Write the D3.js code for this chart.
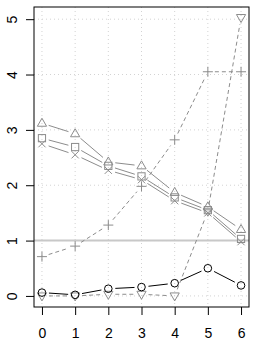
<!DOCTYPE html>
<html>
<head>
<meta charset="utf-8">
<script src="https://cdn.jsdelivr.net/npm/d3@7"></script>
<style>
  body { margin: 0; background: #fff; }
  text { font-family: "Liberation Sans", Arial, sans-serif; }
</style>
</head>
<body>
<svg id="chart" width="258" height="343"></svg>
<script>
// x positions
const xs = [0, 1, 2, 3, 4, 5, 6];
const xTicks = [0, 1, 2, 3, 4, 5, 6];
const yTicks = [0, 1, 2, 3, 4, 5];

// series
const triUp   = [3.12, 2.93, 2.42, 2.35, 1.87, 1.61, 1.2];
const square  = [2.85, 2.69, 2.35, 2.16, 1.78, 1.55, 1.03];
const cross   = [2.75, 2.55, 2.27, 2.1, 1.72, 1.5, 0.98];
const plus    = [0.71, 0.9, 1.28, 1.98, 2.82, 4.05, 4.05];
const triDown = [0.0, 0.0, 0.03, 0.03, 0.0, 1.53, 5.03];
const circle  = [0.06, 0.02, 0.13, 0.16, 0.23, 0.5, 0.19];
const refLine = 1;

const margin = { top: 7, right: 9, bottom: 36, left: 34 };
const W = 258, H = 343;
const width = W - margin.left - margin.right;
const height = H - margin.top - margin.bottom;

const svg = d3.select('#chart');
const chart = svg.append('g')
  .attr('transform', `translate(${margin.left},${margin.top})`);

const x = d3.scaleLinear().domain([-0.24, 6.24]).range([0, width]);
const y = d3.scaleLinear().domain([-0.2, 5.22]).range([height, 0]);

// grid
chart.append('g').selectAll('line').data(xTicks).join('line')
  .attr('x1', d => x(d)).attr('x2', d => x(d))
  .attr('y1', 0).attr('y2', height)
  .attr('stroke', '#d3d3d3').attr('stroke-dasharray', '1,3');
chart.append('g').selectAll('line').data(yTicks).join('line')
  .attr('x1', 0).attr('x2', width)
  .attr('y1', d => y(d)).attr('y2', d => y(d))
  .attr('stroke', '#d3d3d3').attr('stroke-dasharray', '1,3');

// reference line
chart.append('line')
  .attr('x1', 0).attr('x2', width)
  .attr('y1', y(refLine)).attr('y2', y(refLine))
  .attr('stroke', '#c8c8c8').attr('stroke-width', 2);

// axes
const fmt = d3.format('d');
const xAxis = d3.axisBottom(x).tickValues(xTicks).tickFormat(fmt).tickSize(8).tickPadding(13).tickSizeOuter(0);
const yAxis = d3.axisLeft(y).tickValues(yTicks).tickFormat(fmt).tickSize(8).tickPadding(9).tickSizeOuter(0);

const gx = chart.append('g').attr('transform', `translate(0,${height})`).call(xAxis);
gx.select('.domain').remove();
gx.selectAll('text').attr('font-size', 14).attr('fill', '#000');
gx.selectAll('line').attr('stroke', '#000');

const gy = chart.append('g').call(yAxis);
gy.select('.domain').remove();
gy.selectAll('line').attr('stroke', '#000');
gy.selectAll('text')
  .attr('font-size', 14).attr('fill', '#000')
  .attr('text-anchor', 'middle')
  .attr('dy', 0)
  .attr('x', 0)
  .attr('y', 5)
  .attr('transform', 'translate(-22,0) rotate(-90)');

// segments with gaps around markers (like R type="b")
function drawSeries(vals, color, dash, gap) {
  const pts = vals.map((v, i) => [x(xs[i]), y(v)]);
  const segs = [];
  for (let i = 0; i < pts.length - 1; i++) {
    const [x1, y1] = pts[i], [x2, y2] = pts[i + 1];
    const len = Math.hypot(x2 - x1, y2 - y1);
    if (len <= 2 * gap) continue;
    const ux = (x2 - x1) / len, uy = (y2 - y1) / len;
    segs.push([x1 + ux * gap, y1 + uy * gap, x2 - ux * gap, y2 - uy * gap]);
  }
  chart.append('g').selectAll('line').data(segs).join('line')
    .attr('x1', d => d[0]).attr('y1', d => d[1])
    .attr('x2', d => d[2]).attr('y2', d => d[3])
    .attr('stroke', color).attr('stroke-width', 1)
    .attr('stroke-dasharray', dash);
  return pts;
}

const gray = '#8c8c8c';
function markers(pts, type, color) {
  const g = chart.append('g').attr('fill', 'none').attr('stroke', color).attr('stroke-width', 1);
  pts.forEach(([px, py]) => {
    if (type === 'triUp') {
      g.append('path').attr('d', `M${px},${py - 5}L${px + 4.6},${py + 3}L${px - 4.6},${py + 3}Z`);
    } else if (type === 'triDown') {
      g.append('path').attr('d', `M${px},${py + 5}L${px + 4.6},${py - 3}L${px - 4.6},${py - 3}Z`);
    } else if (type === 'square') {
      g.append('rect').attr('x', px - 3.6).attr('y', py - 3.6).attr('width', 7.2).attr('height', 7.2);
    } else if (type === 'cross') {
      g.append('path').attr('d', `M${px - 3.6},${py - 3.6}L${px + 3.6},${py + 3.6}M${px - 3.6},${py + 3.6}L${px + 3.6},${py - 3.6}`);
    } else if (type === 'plus') {
      g.append('path').attr('d', `M${px - 5},${py}L${px + 5},${py}M${px},${py - 5}L${px},${py + 5}`);
    } else if (type === 'circle') {
      g.append('circle').attr('cx', px).attr('cy', py).attr('r', 3.8);
    }
  });
}

const pDown = drawSeries(triDown, gray, '4,3', 7);
const pPlus = drawSeries(plus, gray, '4,3', 7);
const pUp = drawSeries(triUp, gray, null, 7);
const pSq = drawSeries(square, gray, null, 7);
const pX = drawSeries(cross, gray, null, 7);
const pC = drawSeries(circle, '#000', null, 7);

markers(pDown, 'triDown', gray);
markers(pPlus, 'plus', gray);
markers(pUp, 'triUp', gray);
markers(pSq, 'square', gray);
markers(pX, 'cross', gray);
markers(pC, 'circle', '#000');

// box
chart.append('rect')
  .attr('x', 0).attr('y', 0).attr('width', width).attr('height', height)
  .attr('fill', 'none').attr('stroke', '#000').attr('stroke-width', 1);
</script>
</body>
</html>
